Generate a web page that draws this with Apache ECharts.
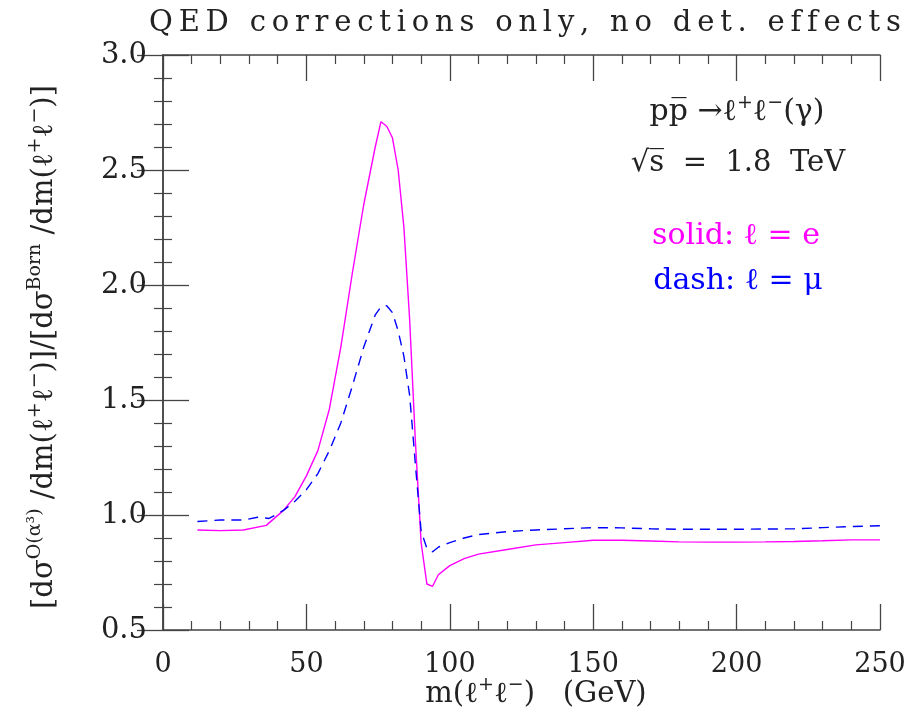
<!DOCTYPE html>
<html>
<head>
<meta charset="utf-8">
<script src="https://cdn.jsdelivr.net/npm/echarts@6/dist/echarts.min.js"></script>
<style>
  html, body { margin: 0; padding: 0; background: #fff; }
  #chart { width: 915px; height: 727px; }
</style>
</head>
<body>
<div id="chart"></div>
<script>
// m(l+l-) in GeV and the ratio
const massE = [12, 20, 28, 36, 42, 46, 50, 54, 58, 62, 66, 70, 74, 76, 78, 80, 82, 84, 86, 88, 90, 92, 94, 96, 100, 105, 110, 120, 130, 140, 150, 160, 170, 180, 190, 200, 210, 220, 230, 240, 250]
const ratioE = [0.935, 0.932, 0.935, 0.955, 1.02, 1.08, 1.17, 1.28, 1.46, 1.73, 2.05, 2.35, 2.60, 2.71, 2.69, 2.64, 2.50, 2.25, 1.85, 1.32, 0.88, 0.70, 0.69, 0.74, 0.78, 0.81, 0.83, 0.85, 0.87, 0.88, 0.89, 0.89, 0.887, 0.883, 0.882, 0.882, 0.883, 0.885, 0.888, 0.892, 0.892]

const massMu = [12, 20, 28, 33, 37, 42, 46, 50, 54, 58, 62, 66, 70, 74, 76, 78, 80, 82, 84, 86, 88, 90, 92, 94, 96, 100, 105, 110, 120, 130, 140, 150, 160, 170, 180, 190, 200, 210, 220, 230, 240, 250]
const ratioMu = [0.972, 0.978, 0.978, 0.99, 0.985, 1.02, 1.06, 1.11, 1.18, 1.28, 1.40, 1.56, 1.73, 1.87, 1.905, 1.91, 1.88, 1.80, 1.69, 1.52, 1.22, 0.93, 0.855, 0.84, 0.86, 0.88, 0.90, 0.915, 0.928, 0.935, 0.94, 0.945, 0.944, 0.94, 0.938, 0.938, 0.938, 0.939, 0.94, 0.945, 0.95, 0.953]

const xTicks = [0, 50, 100, 150, 200, 250]
const yTicks = ['0.5', '1.0', '1.5', '2.0', '2.5', '3.0']

const TITLE = 'QED corrections only, no det. effects'

const FONT = 'DejaVu Serif'
const AXIS_COLOR = '#444'

const Chart = echarts.init(document.getElementById('chart'))

const sup = { fontFamily: FONT, fontSize: 19, padding: [0, 0, 18, 0] }

function frameAxis(pos, showLabel, isX){
  return {
    type: 'value',
    position: pos,
    min: isX ? xTicks[0] : +yTicks[0],
    max: isX ? xTicks[xTicks.length-1] : +yTicks[yTicks.length-1],
    interval: isX ? 50 : 0.5,
    axisLine: { show: true, lineStyle: { color: AXIS_COLOR, width: 1.5 } },
    axisTick: { show: true, inside: true, length: 26, lineStyle: { color: AXIS_COLOR, width: 1.3 } },
    minorTick: { show: true, splitNumber: 5, length: 9, lineStyle: { color: AXIS_COLOR, width: 1.2 } },
    splitLine: { show: false },
    axisLabel: {
      show: showLabel,
      fontFamily: FONT,
      fontSize: isX ? 27 : 29,
      color: '#222',
      margin: isX ? 21 : 16,
      formatter: v => isX ? String(v) : v.toFixed(1)
    }
  }
}

Chart.setOption({
  animation: false,
  backgroundColor: '#fff',
  grid: { left: 163, right: 35, top: 55, bottom: 97 },
  xAxis: [frameAxis('bottom', true, true), frameAxis('top', false, true)],
  yAxis: [frameAxis('left', true, false), frameAxis('right', false, false)],
  series: [{
    name: 'e',
    type: 'line',
    symbol: 'none',
    lineStyle: { color: '#ff00ff', width: 1.4 },
    data: massE.map((m, i) => [m, ratioE[i]])
  }, {
    name: 'mu',
    type: 'line',
    symbol: 'none',
    lineStyle: { color: '#0000ff', width: 1.4, type: [10, 7] },
    data: massMu.map((m, i) => [m, ratioMu[i]])
  }],
  graphic: [{
    // the original title is widely letter-spaced: thin spaces between letters
    type: 'text', x: 525, y: 23,
    style: { text: TITLE.split('').join('\u2009'), fontFamily: FONT, fontSize: 29, fill: '#222', align: 'center', verticalAlign: 'middle' }
  }, {
    type: 'text', x: 536, y: 694,
    style: {
      text: 'm(ℓ{s|+}ℓ{s|−})   (GeV)', fontFamily: FONT, fontSize: 29, fill: '#222',
      align: 'center', verticalAlign: 'middle', rich: { s: sup }
    }
  }, {
    type: 'text', x: 44, y: 347, rotation: Math.PI / 2,
    style: {
      text: '[dσ{s|O(α³)} /dm(ℓ{s|+}ℓ{s|−})]/[dσ{s|Born} /dm(ℓ{s|+}ℓ{s|−})]',
      fontFamily: FONT, fontSize: 29, fill: '#222',
      align: 'center', verticalAlign: 'middle', rich: { s: sup }
    }
  }, {
    type: 'text', x: 737, y: 112,
    style: {
      text: 'pp\u0305 →ℓ{s|+}ℓ{s|−}(γ)', fontFamily: FONT, fontSize: 30, fill: '#222',
      align: 'center', verticalAlign: 'middle', rich: { s: sup }
    }
  }, {
    type: 'text', x: 738, y: 163,
    style: { text: '√s\u0305  =  1.8  TeV', fontFamily: FONT, fontSize: 29, fill: '#222', align: 'center', verticalAlign: 'middle' }
  }, {
    type: 'text', x: 736, y: 236,
    style: { text: 'solid: ℓ = e', fontFamily: FONT, fontSize: 30, fill: '#ff00ff', align: 'center', verticalAlign: 'middle' }
  }, {
    type: 'text', x: 738, y: 281,
    style: { text: 'dash: ℓ = μ', fontFamily: FONT, fontSize: 30, fill: '#0000ff', align: 'center', verticalAlign: 'middle' }
  }]
})
</script>
</body>
</html>
